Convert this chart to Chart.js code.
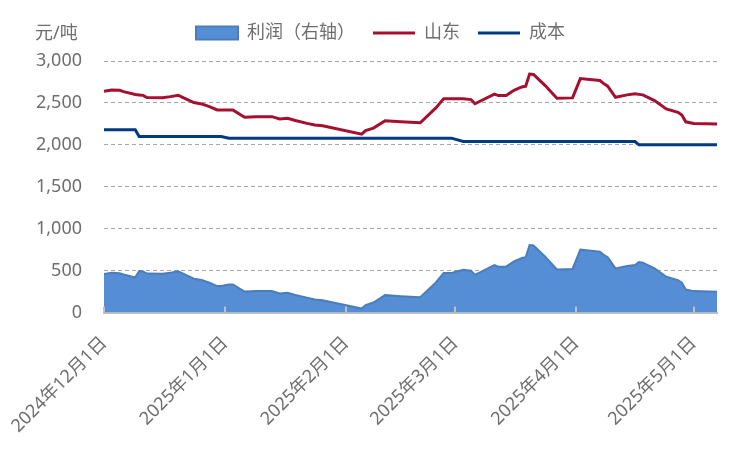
<!DOCTYPE html>
<html>
<head>
<meta charset="utf-8">
<script src="https://cdn.jsdelivr.net/npm/chart.js@4/dist/chart.umd.min.js"></script>
<style>
  html, body { margin: 0; padding: 0; background: #fff; }
  #wrap { width: 750px; height: 450px; position: relative; }
</style>
</head>
<body>
<div id="wrap"><canvas id="chart"></canvas></div>
<script>
// dates of the data points
const dates = [
  '2024-12-01', '2024-12-03', '2024-12-05', '2024-12-06', '2024-12-09', '2024-12-10',
  '2024-12-11', '2024-12-12', '2024-12-16', '2024-12-18', '2024-12-20', '2024-12-21',
  '2024-12-24', '2024-12-26', '2024-12-28', '2024-12-30', '2024-12-31', '2025-01-02',
  '2025-01-03', '2025-01-06', '2025-01-09', '2025-01-13', '2025-01-15', '2025-01-17',
  '2025-01-19', '2025-01-22', '2025-01-24', '2025-01-26', '2025-02-05', '2025-02-06',
  '2025-02-08', '2025-02-11', '2025-02-15', '2025-02-20', '2025-02-24', '2025-02-26',
  '2025-02-28', '2025-03-03', '2025-03-05', '2025-03-06', '2025-03-11', '2025-03-12',
  '2025-03-14', '2025-03-16', '2025-03-18', '2025-03-19', '2025-03-20', '2025-03-21',
  '2025-03-24', '2025-03-27', '2025-03-31', '2025-04-02', '2025-04-07', '2025-04-08',
  '2025-04-09', '2025-04-11', '2025-04-14', '2025-04-16', '2025-04-17', '2025-04-18',
  '2025-04-21', '2025-04-24', '2025-04-27', '2025-04-28', '2025-04-29', '2025-05-01',
  '2025-05-07'
];

// 山东 price
const shandong = [
  2640, 2655, 2650, 2635, 2600, 2595,
  2590, 2565, 2563, 2575, 2592, 2570,
  2505, 2488, 2456, 2416, 2416, 2416,
  2416, 2330, 2336, 2336, 2308, 2316,
  2290, 2256, 2236, 2228, 2128, 2170,
  2200, 2288, 2276, 2264, 2440, 2551,
  2551, 2551, 2540, 2490, 2605, 2588,
  2588, 2650, 2690, 2700, 2845, 2840,
  2707, 2555, 2560, 2790, 2767, 2730,
  2700, 2567, 2596, 2608, 2602, 2596,
  2528, 2428, 2388, 2356, 2275, 2256,
  2248
];

// 成本
const cost = [
  2180, 2180, 2180, 2180, 2180, 2100,
  2100, 2100, 2100, 2100, 2100, 2100,
  2100, 2100, 2100, 2100, 2100, 2080,
  2080, 2080, 2080, 2080, 2080, 2080,
  2080, 2080, 2080, 2080, 2080, 2080,
  2080, 2080, 2080, 2080, 2080, 2080,
  2080, 2040, 2040, 2040, 2040, 2040,
  2040, 2040, 2040, 2040, 2040, 2040,
  2040, 2040, 2040, 2040, 2040, 2040,
  2040, 2040, 2040, 2040, 2000, 2000,
  2000, 2000, 2000, 2000, 2000, 2000,
  2000
];

// 利润（右轴）
const profit = [
  460, 475, 470, 455, 420, 495,
  490, 465, 463, 475, 492, 470,
  405, 388, 356, 316, 316, 336,
  336, 250, 256, 256, 228, 236,
  210, 176, 156, 148, 48, 90,
  120, 208, 196, 184, 360, 471,
  471, 511, 500, 450, 565, 548,
  548, 610, 650, 660, 805, 800,
  667, 515, 520, 750, 727, 690,
  660, 527, 556, 568, 602, 596,
  528, 428, 388, 356, 275, 256,
  248
];

// x axis ticks
const tickDates = ['2024-12-01', '2025-01-01', '2025-02-01', '2025-03-01', '2025-04-01', '2025-05-01'];
const tickLabels = ['2024年12月1日', '2025年1月1日', '2025年2月1日', '2025年3月1日', '2025年4月1日', '2025年5月1日'];
const lastDate = '2025-05-07';

const dayOf = s => {
  const [y, m, d] = s.split('-').map(Number);
  return Math.round((Date.UTC(y, m - 1, d) - Date.UTC(2024, 11, 1)) / 86400000);
};
const xs = dates.map(dayOf);
const tickDays = tickDates.map(dayOf);

const FONT = "'Noto Sans', 'Noto Sans CJK SC', sans-serif";
const TEXT = '#6e6e6e';

const unitLabel = {
  id: 'unitLabel',
  afterDraw(chart) {
    const ctx = chart.ctx;
    ctx.save();
    ctx.font = '18px ' + FONT;
    ctx.fillStyle = TEXT;
    ctx.textAlign = 'left';
    ctx.textBaseline = 'middle';
    ctx.fillText('元/吨', 35, 34);
    ctx.restore();
  }
};

// a bit more room under the legend, and nudge it right
const legendGap = {
  id: 'legendGap',
  beforeInit(chart) {
    const fit = chart.legend.fit;
    chart.legend.fit = function () {
      fit.call(this);
      this.height += 9;
    };
  },
  afterLayout(chart) {
    chart.legend.left += 15;
    chart.legend.right += 15;
  }
};

// small upward tick marks on the date axis
const xTickMarks = {
  id: 'xTickMarks',
  afterDatasetsDraw(chart) {
    const x = chart.scales.x;
    const ctx = chart.ctx;
    ctx.save();
    ctx.strokeStyle = '#bfbfbf';
    ctx.lineWidth = 2;
    tickDays.forEach(d => {
      const px = Math.round(x.getPixelForValue(d));
      ctx.beginPath();
      ctx.moveTo(px, chart.chartArea.bottom);
      ctx.lineTo(px, chart.chartArea.bottom - 6);
      ctx.stroke();
    });
    ctx.restore();
  }
};

new Chart(document.getElementById('chart'), {
  type: 'line',
  data: {
    datasets: [
      {
        label: '利润（右轴）',
        data: xs.map((x, i) => ({ x, y: profit[i] })),
        backgroundColor: '#558ed5',
        borderColor: '#4a7ebb',
        borderWidth: 2,
        fill: 'origin',
        pointRadius: 0,
        pointStyle: 'rect',
        tension: 0
      },
      {
        label: '山东',
        data: xs.map((x, i) => ({ x, y: shandong[i] })),
        borderColor: '#a50f30',
        backgroundColor: '#a50f30',
        borderWidth: 3,
        fill: false,
        pointRadius: 0,
        pointStyle: 'line',
        tension: 0
      },
      {
        label: '成本',
        data: xs.map((x, i) => ({ x, y: cost[i] })),
        borderColor: '#003a80',
        backgroundColor: '#003a80',
        borderWidth: 3,
        fill: false,
        pointRadius: 0,
        pointStyle: 'line',
        tension: 0
      }
    ]
  },
  options: {
    responsive: true,
    maintainAspectRatio: false,
    animation: false,
    layout: { padding: { left: 14, right: 33, top: 6, bottom: 1 } },
    plugins: {
      legend: {
        position: 'top',
        labels: {
          usePointStyle: true,
          pointStyleWidth: 42,
          boxHeight: 13,
          padding: 18,
          color: TEXT,
          font: { family: FONT, size: 18 }
        }
      },
      tooltip: { enabled: false }
    },
    scales: {
      x: {
        type: 'linear',
        min: 0,
        max: dayOf(lastDate),
        afterBuildTicks: axis => { axis.ticks = tickDays.map(v => ({ value: v })); },
        grid: { display: false },
        border: { display: true, color: '#bfbfbf', width: 2 },
        ticks: {
          autoSkip: false,
          minRotation: 45,
          maxRotation: 45,
          padding: 12,
          color: TEXT,
          font: { family: FONT, size: 18 },
          callback: v => tickLabels[tickDays.indexOf(v)]
        }
      },
      y: {
        min: 0,
        max: 3000,
        ticks: {
          stepSize: 500,
          padding: 22,
          color: TEXT,
          font: { family: FONT, size: 18 },
          callback: v => v.toLocaleString('en-US')
        },
        grid: { color: '#a6a6a6', lineWidth: 1, drawTicks: false },
        border: { display: false, dash: [4, 3] }
      }
    }
  },
  plugins: [unitLabel, legendGap, xTickMarks]
});
</script>
</body>
</html>
